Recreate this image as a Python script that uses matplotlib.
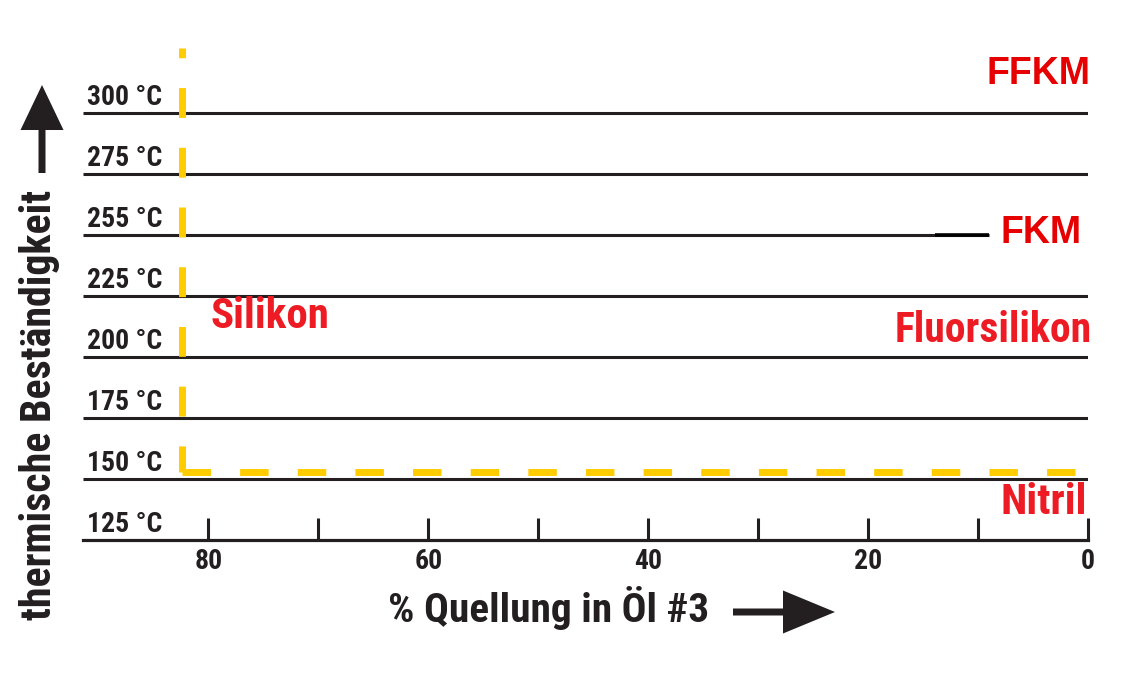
import matplotlib.pyplot as plt
from matplotlib.patches import FancyArrow
from matplotlib import font_manager

# look for a condensed bold face among the installed fonts
cands = []
for f in font_manager.fontManager.ttflist:
    w = f.weight if isinstance(f.weight, int) else 700 if 'bold' in str(f.weight) else 400
    if f.stretch not in ('normal', 'medium') or 'Narrow' in f.name or 'Condensed' in f.name:
        if w >= 600 and 'Mono' not in f.name:
            cands.append(f)
pref = ['Liberation Sans Narrow', 'Roboto Condensed', 'DejaVu Sans', 'Open Sans', 'Noto Sans']
cands.sort(key=lambda f: pref.index(f.name) if f.name in pref else 99)
if cands:
    narrow = font_manager.FontProperties(fname=cands[0].fname)
else:
    narrow = font_manager.FontProperties(family='Roboto', weight='bold')

def nf(size):
    p = narrow.copy()
    p.set_size(size)
    if not cands:
        p.set_weight('bold')
    return p

# data
temps = ['125 °C', '150 °C', '175 °C', '200 °C', '225 °C', '255 °C', '275 °C', '300 °C']
level = [0, 1, 2, 3, 4, 5, 6, 7]
major_x = [80, 60, 40, 20, 0]
minor_x = [70, 50, 30, 10]
silikon_x = 82.4      # swelling limit of silicone
silikon_floor = 1.11  # just above 150 °C
fkm_end = 9.0
fkm_mark = [13.9, 9.0]

materials = ['FFKM', 'FKM', 'Silikon', 'Fluorsilikon', 'Nitril']

ink = '#231f20'
red = '#ed1c24'
yellow = '#ffcc00'

fig = plt.figure(figsize=(11.42, 6.79), dpi=100)
W, H = 1142, 679
ax = fig.add_axes([83 / W, 1 - 540 / H, (1088 - 83) / W, 500 / H])
ax.set_xlim(91.4, 0)
ax.set_ylim(0, 8.2)

for s in ['top', 'left', 'right']:
    ax.spines[s].set_visible(False)
ax.spines['bottom'].set_linewidth(2.3)
ax.spines['bottom'].set_color(ink)
ax.set_yticks([])
ax.set_xticks(major_x)
ax.set_xticks(minor_x, minor=True)
ax.tick_params(axis='x', which='both', direction='in', length=16, width=2.2,
               color=ink, pad=6)
ax.set_xticklabels([str(v) for v in major_x], fontproperties=nf(20), color=ink)

# temperature lines and labels
for i, t in zip(level, temps):
    if i > 0:
        end = fkm_end if t == '255 °C' else 0
        ax.plot([91.4, end], [i, i], color=ink, lw=2.2, solid_capstyle='butt')
    ax.text(91.0, i + 0.04, t, fontproperties=nf(20), color=ink,
            ha='left', va='bottom')
ax.plot(fkm_mark, [5, 5], color='black', lw=2.6, solid_capstyle='butt')

# silicone boundary (yellow dashed)
ax.plot([silikon_x, silikon_x], [8.07, silikon_floor], color=yellow, lw=5,
        linestyle=(2.9, (4.3, 4.3)), clip_on=False)
ax.plot([silikon_x, -0.35], [silikon_floor, silikon_floor], color=yellow, lw=5,
        linestyle=(0, (4.1, 4.2)), clip_on=False)

# material labels
ax.text(-0.2, 7.64, materials[0], color='#e60000', fontsize=27, fontweight='bold',
        family='Liberation Sans', ha='right', va='center', clip_on=False)
ax.text(8.0, 5.03, materials[1], color='#e60000', fontsize=27, fontweight='bold',
        family='Liberation Sans', ha='left', va='center', clip_on=False)
ax.text(79.8, 3.67, materials[2], color=red, fontproperties=nf(31),
        ha='left', va='center')
ax.text(-0.35, 3.44, materials[3], color=red, fontproperties=nf(30),
        ha='right', va='center', clip_on=False)
ax.text(0.1, 0.61, materials[4], color=red, fontproperties=nf(31),
        ha='right', va='center', clip_on=False)

# overlay for titles and arrows, in pixels
ov = fig.add_axes([0, 0, 1, 1], facecolor='none')
ov.set_xlim(0, W)
ov.set_ylim(H, 0)
ov.axis('off')
xt = ov.text(388, 608, '% Quellung in Öl #3', fontproperties=nf(28), color=ink,
             ha='left', va='center')
yt = ov.text(40, 620, 'thermische Beständigkeit', fontproperties=nf(28), color=ink,
             ha='center', va='bottom', rotation=90)
# size titles to the span they take in the picture
r = fig.canvas.get_renderer()
for t, target, k in [(xt, 320, 'width'), (yt, 430, 'height')]:
    bb = t.get_window_extent(r)
    span = bb.width if k == 'width' else bb.height
    t.set_fontsize(t.get_fontsize() * target / span)
ov.add_patch(FancyArrow(733, 612, 50, 0, width=7, head_width=43, head_length=52,
                        length_includes_head=False, color=ink, lw=0))
ov.add_patch(FancyArrow(42, 173, 0, -43, width=7, head_width=43, head_length=45,
                        length_includes_head=False, color=ink, lw=0))

fig.savefig('out.png', dpi=100)
